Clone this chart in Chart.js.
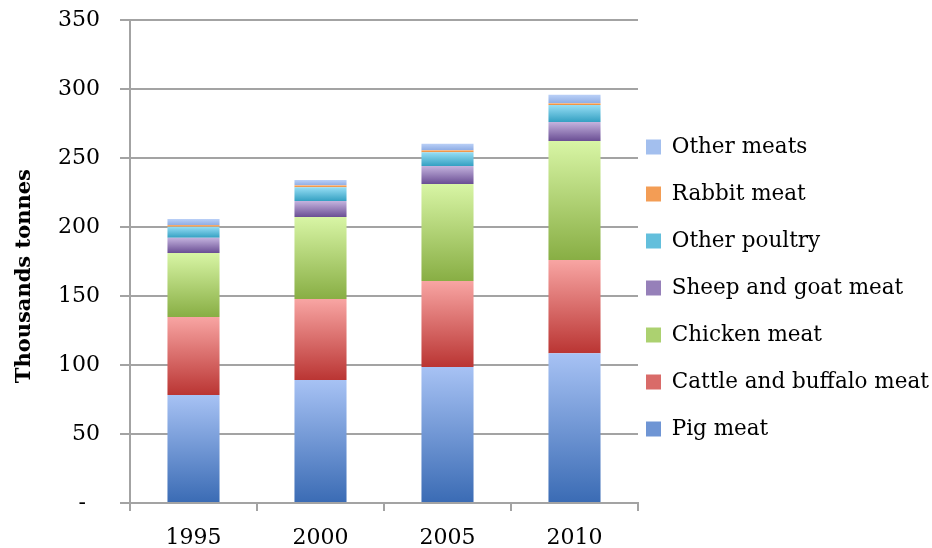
<!DOCTYPE html>
<html>
<head>
<meta charset="utf-8">
<title>Meat production</title>
<script src="https://cdn.jsdelivr.net/npm/chart.js@4/dist/chart.umd.min.js"></script>
<style>
  html, body { margin: 0; padding: 0; background: #fff; }
  #wrap { width: 932px; height: 548px; }
</style>
</head>
<body>
<div id="wrap"><canvas id="meatChart"></canvas></div>
<script>
'use strict'
// 연도
const years = ['1995', '2000', '2005', '2010'];
// 품목별 생산량 (천 톤)
const pigMeat = [78.3, 89.1, 98.6, 108.5];
const cattleMeat = [56.5, 58.7, 62.3, 67.6];
const chickenMeat = [46.4, 59.4, 70.3, 86.2];
const sheepMeat = [11.0, 11.6, 13.0, 13.8];
const otherPoultry = [8.0, 10.0, 10.0, 12.3];
const rabbitMeat = [1.2, 1.4, 1.5, 1.3];
const otherMeats = [4.4, 3.8, 4.7, 6.1];
// y축 눈금
const yTicks = [0, 50, 100, 150, 200, 250, 300, 350];

const seriesNames = ['Pig meat', 'Cattle and buffalo meat', 'Chicken meat', 'Sheep and goat meat', 'Other poultry', 'Rabbit meat', 'Other meats'];
const seriesValues = [pigMeat, cattleMeat, chickenMeat, sheepMeat, otherPoultry, rabbitMeat, otherMeats];
// 위쪽 밝은 색 / 아래쪽 진한 색
const lightColors = ['#a7c2f4', '#f8a5a3', '#d8f5a5', '#c4b3de', '#97def5', '#f9b47c', '#bad0f7'];
const darkColors = ['#3a6bb4', '#ba3533', '#88ae44', '#6a4e94', '#34a0c2', '#ee8930', '#8fade4'];
const legendColors = ['#6f95d4', '#d96b69', '#acd170', '#9680b9', '#63bfdc', '#f39d55', '#a3bfee'];

const serif = "'DejaVu Serif', 'Liberation Serif', serif";
const gridGray = '#a3a3a3';

// 막대 조각마다 세로 그라데이션
function segmentFill(ctx){
    const ds = ctx.datasetIndex;
    const chart = ctx.chart;
    const y = chart.scales.y;
    if(ctx.type !== 'data' || !y) return legendColors[ds];
    const i = ctx.dataIndex;
    let base = 0;
    for(let k = 0; k < ds; k++) base += seriesValues[k][i];
    const top = base + seriesValues[ds][i];
    const y0 = y.getPixelForValue(top);
    const y1 = y.getPixelForValue(base);
    //스케일 준비 전이면 단색
    if(!isFinite(y0) || !isFinite(y1) || y0 === y1) return legendColors[ds];
    const g = chart.ctx.createLinearGradient(0, y0, 0, y1);
    g.addColorStop(0, lightColors[ds]);
    g.addColorStop(1, darkColors[ds]);
    return g;
}

// 범례 항목 간격을 넓히려고 텍스트를 배열로 (줄 높이 적용)
function legendLabels(chart){
    const items = Chart.defaults.plugins.legend.labels.generateLabels(chart);
    items.forEach((item) => {
        item.text = [item.text];
        item.fillStyle = legendColors[item.datasetIndex];
    });
    return items;
}

const datasets = seriesNames.map((name, k) => ({
    label: name,
    data: seriesValues[k],
    backgroundColor: segmentFill,
    borderWidth: 0,
    barPercentage: 0.41,
    categoryPercentage: 1
}));

new Chart(document.getElementById('meatChart'), {
    type: 'bar',
    data: { labels: years, datasets: datasets },
    options: {
        responsive: true,
        maintainAspectRatio: false,
        animation: false,
        layout: { padding: { top: 0, right: 0, left: 0, bottom: 0 } },
        plugins: {
            tooltip: { enabled: false },
            legend: {
                position: 'right',
                reverse: true,
                align: 'center',
                maxWidth: 294,
                title: { display: true, text: ' ', font: { size: 10, lineHeight: 4.55 } },
                labels: {
                    boxWidth: 15,
                    boxHeight: 15,
                    padding: 8,
                    color: '#000',
                    generateLabels: legendLabels,
                    font: { family: serif, size: 21.5, lineHeight: 39 / 21.5 }
                }
            }
        },
        scales: {
            x: {
                stacked: true,
                grid: { offset: true, drawOnChartArea: false, drawTicks: true, tickLength: 8, color: gridGray, lineWidth: 2 },
                border: { color: gridGray, width: 2 },
                ticks: { color: '#000', padding: 14, font: { family: serif, size: 22 } },
                afterFit: function(scale){ scale.height = 45; }
            },
            y: {
                stacked: true,
                min: 0,
                max: 350,
                afterBuildTicks: function(scale){ scale.ticks = yTicks.map(v => ({ value: v })); },
                grid: { color: gridGray, lineWidth: 2, tickLength: 10 },
                border: { color: gridGray, width: 2 },
                ticks: {
                    color: '#000',
                    padding: 20,
                    font: { family: serif, size: 22 },
                    callback: function(v){ return v === 0 ? '-  ' : v; }
                },
                title: {
                    display: true,
                    text: 'Thousands tonnes    ',
                    color: '#000',
                    padding: { top: 12, bottom: 0 },
                    font: { family: serif, size: 21, weight: 'bold' }
                },
                afterFit: function(scale){
                    scale.width = 130;
                    //위쪽 여백 고정
                    scale.paddingTop = 20;
                    scale.paddingBottom = 0;
                }
            }
        }
    }
});
</script>
</body>
</html>
